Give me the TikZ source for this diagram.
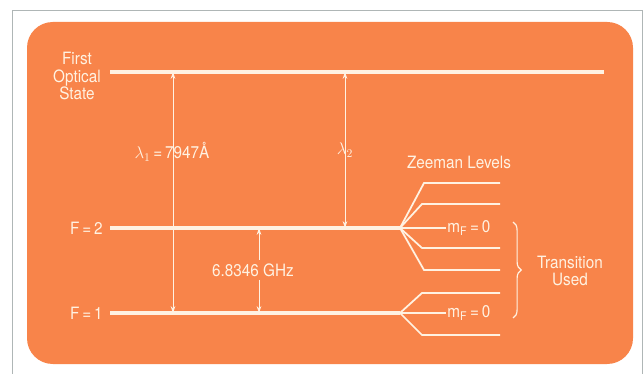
\documentclass[tikz,border=0pt]{standalone}
\usepackage{fontspec}
\setmainfont{TeX Gyre Heros}[FakeStretch=0.9]
\usetikzlibrary{arrows.meta, positioning, decorations.pathreplacing}
\definecolor{panelorange}{RGB}{248, 132, 74}
\definecolor{levelwhite}{RGB}{255, 242, 226}
\definecolor{framegray}{RGB}{175, 182, 182}

\begin{document}
\begin{tikzpicture}[x=0.03cm, y=-0.03cm,
    level/.style={line width=2.8pt, levelwhite},
    sublevel/.style={line width=1.5pt, levelwhite},
    trans/.style={{Stealth[length=6pt,width=4pt]}-{Stealth[length=6pt,width=4pt]}, line width=0.8pt, levelwhite},
    lbl/.style={font=\fontsize{14.5}{15}\selectfont, text=levelwhite, inner sep=1pt}]
  \useasboundingbox (0,0) rectangle (644,374);
  \draw[framegray, line width=0.8pt] (12,374) -- (12,10) -- (642,10) -- (642,374);
  \fill[panelorange, rounded corners=22] (27,22) rectangle (633,364);

  % levels
  \node[lbl, align=center] (optlbl) at (77,76) {First\\Optical\\State};
  \node[lbl, anchor=east] (ftwolbl) at (104,228) {F\,=\,2};
  \node[lbl, anchor=east] (fonelbl) at (104,313) {F\,=\,1};
  \coordinate (opt) at (110,72);
  \coordinate (optend) at (604,72);
  \coordinate (ftwo) at (110,228);
  \coordinate (ftwofan) at (400,228);
  \coordinate (fone) at (110,313);
  \coordinate (fonefan) at (400,313);
  \draw[level] (opt) -- (optend);
  \draw[level] (ftwo) -- (ftwofan);
  \draw[level] (fone) -- (fonefan);

  % Zeeman splitting
  \node[lbl] (zeeman) at (459,162) {Zeeman Levels};
  \foreach \x/\y in {424/183, 422/204, 422/248, 424/270} {
    \draw[sublevel] (ftwofan) -- (\x,\y) -- (500,\y);
  }
  \foreach \x/\y in {422/293, 422/335} {
    \draw[sublevel] (fonefan) -- (\x,\y) -- (500,\y);
  }
  \node[lbl, anchor=west] (mtwo) at (446,228) {m\textsubscript{F}\,=\,0};
  \node[lbl, anchor=west] (mone) at (446,313) {m\textsubscript{F}\,=\,0};
  \draw[sublevel] (ftwofan) -- (mtwo.west);
  \draw[sublevel] (fonefan) -- (mone.west);

  \draw[levelwhite, line width=1pt, decorate, decoration={brace, amplitude=7pt}]
    (513,222) -- (513,318) coordinate[midway] (bracetip);
  \node[lbl, align=center] (used) at (570,271) {Transition\\Used};

  % transitions
  \coordinate (lonetop) at (173,72);
  \coordinate (lonebot) at (173,313);
  \coordinate (ltwotop) at (345,72);
  \coordinate (ltwobot) at (345,228);
  \coordinate (hfstop) at (259,228);
  \coordinate (hfsbot) at (259,313);
  \draw[trans] (lonetop) -- (lonebot);
  \draw[trans] (ltwotop) -- (ltwobot);
  \draw[trans] (hfstop) -- (hfsbot);
  \node[lbl] (lone) at (172,152) {$\lambda_1$\,=\,7947\AA};
  \node[lbl] (ltwo) at (345,150) {$\lambda_2$};
  \node[lbl, fill=panelorange, inner sep=3pt] (hfs) at (253,270) {6.8346 GHz};
\end{tikzpicture}
\end{document}
